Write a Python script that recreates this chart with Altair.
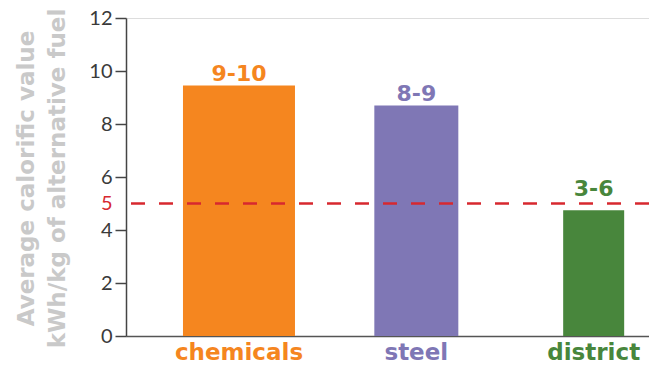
import altair as alt
import pandas as pd

categories = ["chemicals", "steel", "district"]
values = [9.45, 8.7, 4.75]
range_labels = ["9-10", "8-9", "3-6"]
threshold = 5
y_ticks = [0, 2, 4, 5, 6, 8, 10, 12]

colors = ["#F5861F", "#7F77B5", "#48863C"]
bar_widths = [112, 84, 61]
RED = "#D7282F"

df = pd.DataFrame({"category": categories, "value": values, "label": range_labels})

color_expr = (
    f"datum.label == 'chemicals' ? '{colors[0]}' : "
    f"datum.label == 'steel' ? '{colors[1]}' : '{colors[2]}'"
)

x_enc = alt.X(
    "category:N",
    sort=categories,
    scale=alt.Scale(paddingInner=0.5, paddingOuter=0.2245, align=0.862),
    axis=alt.Axis(
        title=None,
        labelAngle=0,
        ticks=False,
        labelFont="DejaVu Sans",
        labelFontWeight="bold",
        labelFontSize=23,
        labelPadding=5,
        labelColor=alt.ExprRef(expr=color_expr),
        domainColor="#555555",
        domainWidth=1.5,
        grid=False,
    ),
)

y_scale = alt.Scale(domain=[0, 12], nice=False)

base = alt.Chart(df)

bars = base.mark_bar().encode(
    x=x_enc,
    y=alt.Y(
        "value:Q",
        scale=y_scale,
        axis=alt.Axis(
            values=y_ticks,
            grid=False,
            title=["Average calorific value", "kWh/kg of alternative fuel"],
            titleFont="DejaVu Sans",
            titleFontWeight="bold",
            titleFontSize=23,
            titleColor="#C9C9C9",
            titleAngle=-90,
            titleAlign="center",
            titleBaseline="middle",
            titleX=-100,
            titleY=160,
            titleLineHeight=31,
            labelFont="Lato",
            labelFontSize=20,
            labelPadding=3,
            labelColor=alt.ExprRef(expr=f"datum.value == {threshold} ? '{RED}' : '#3a3a3a'"),
            tickColor=alt.ExprRef(expr=f"datum.value == {threshold} ? 'transparent' : '#444444'"),
            tickSize=11,
            tickWidth=1.5,
            domainColor="#444444",
            domainWidth=1.5,
        ),
    ),
    color=alt.Color("category:N", scale=alt.Scale(domain=categories, range=colors), legend=None),
    size=alt.Size(
        "category:N",
        scale=alt.Scale(type="ordinal", domain=categories, range=bar_widths),
        legend=None,
    ),
)

rule = alt.Chart(pd.DataFrame({"t": [threshold]})).mark_rule(
    color=RED, strokeDash=[14, 14], strokeWidth=2.5
).encode(y=alt.Y("t:Q", scale=y_scale))

texts = base.transform_calculate(
    pos=f"max(datum.value, {threshold} + 0.1)"
).mark_text(
    font="DejaVu Sans", fontWeight="bold", fontSize=22, baseline="alphabetic", dy=-4.5
).encode(
    x=alt.X("category:N", sort=categories),
    y=alt.Y("pos:Q", scale=y_scale),
    text="label:N",
    color=alt.Color("category:N", scale=alt.Scale(domain=categories, range=colors), legend=None),
)

chart = (
    alt.layer(bars, rule, texts)
    .properties(
        width=523,
        height=318,
        autosize=alt.AutoSizeParams(type="none"),
        padding={"left": 126, "top": 18, "right": 0, "bottom": 31},
    )
    .configure_view(strokeWidth=0, stroke="transparent")
    .configure(background="white")
)

chart.save("out.html", embed_options={"renderer": "svg", "actions": False})
